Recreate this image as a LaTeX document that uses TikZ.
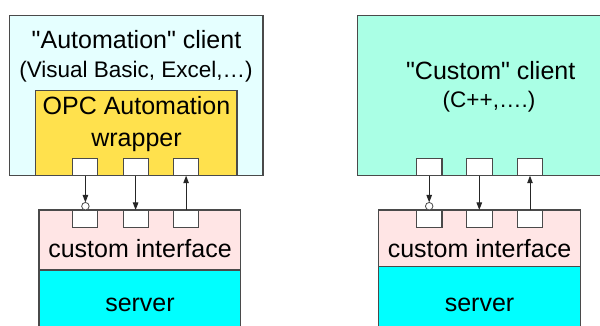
\documentclass[tikz,border=0pt]{standalone}
\usepackage{fontspec}
\setmainfont{Liberation Sans}
\usetikzlibrary{arrows.meta}
\definecolor{edge}{HTML}{4A4A4A}
\definecolor{autocl}{HTML}{E5FFFF}
\definecolor{custcl}{HTML}{AAFFE5}
\definecolor{wrapc}{HTML}{FFE14D}
\definecolor{ifacec}{HTML}{FFE5E5}
\definecolor{servc}{HTML}{00FFFF}
\tikzset{
  box/.style={draw=edge, line width=1.1pt, inner sep=0pt, outer sep=0pt},
  port/.style={box, fill=white, minimum width=25pt},
  bigtxt/.style={inner sep=0pt, anchor=base, font=\fontsize{25}{28}\selectfont},
  smalltxt/.style={inner sep=0pt, anchor=base, font=\fontsize{22.5}{26}\selectfont},
  conn/.style={draw=black!85, line width=1pt, -{Triangle[length=7.5pt,width=5.5pt]}},
  lolly/.style={circle, draw=edge, fill=white, line width=0.8pt, minimum size=7.5pt, inner sep=0pt, outer sep=0pt}
}
\newcommand{\qq}{\textquotedbl}
\begin{document}
\begin{tikzpicture}[x=1pt,y=-1pt]
\useasboundingbox (0,0) rectangle (600,326);
\clip (0,0) rectangle (600,326);
% ---------- left ----------
\node[box, fill=autocl, minimum width=253.5pt, minimum height=160pt] (clientA) at (136.25,95.7) {};
\node[box, fill=wrapc, minimum width=201.3pt, minimum height=85pt] (wrap) at (136.35,133.2) {};
\node[port, minimum height=17pt] (a1) at (85.4,167.2) {};
\node[port, minimum height=17pt] (a2) at (135.6,167.2) {};
\node[port, minimum height=17pt] (a3) at (186.1,167.2) {};
\node[box, fill=ifacec, minimum width=201.7pt, minimum height=60pt] (ifaceA) at (139.85,240) {};
\node[box, fill=servc, minimum width=201.7pt, minimum height=62pt] (servA) at (139.85,301) {};
\node[port, minimum height=17.3pt] (b1) at (85.4,218.6) {};
\node[port, minimum height=17.3pt] (b2) at (135.6,218.6) {};
\node[port, minimum height=17.3pt] (b3) at (186.1,218.6) {};
\node[bigtxt] (tA1) at (136.5,48.3) {\qq Automation\qq{} client};
\node[smalltxt] (tA2) at (136,77.3) {(Visual Basic, Excel,…)};
\node[bigtxt] (tW1) at (136.5,115) {OPC Automation};
\node[bigtxt] (tW2) at (136.5,146.7) {wrapper};
\node[bigtxt] (tI1) at (140,257.3) {custom interface};
\node[bigtxt] (tS1) at (140,311.7) {server};
\node[lolly, anchor=south] (la) at (b1.north) {};
\draw[conn] (a1.south) -- (la.north);
\draw[conn] (a2.south) -- (b2.north);
\draw[conn] (b3.north) -- (a3.south);
% ---------- right ----------
\node[box, fill=custcl, minimum width=250pt, minimum height=160pt] (clientB) at (482.3,95.7) {};
\node[port, minimum width=25.5pt, minimum height=17pt] (c1) at (429.2,167.2) {};
\node[port, minimum width=25.5pt, minimum height=17pt] (c2) at (479.3,167.2) {};
\node[port, minimum width=25.5pt, minimum height=17pt] (c3) at (530,167.2) {};
\node[box, fill=ifacec, minimum width=202pt, minimum height=56.7pt] (ifaceB) at (479.7,238.35) {};
\node[box, fill=servc, minimum width=202pt, minimum height=62pt] (servB) at (479.7,297.7) {};
\node[port, minimum width=25.5pt, minimum height=17.3pt] (d1) at (429.2,218.6) {};
\node[port, minimum width=25.5pt, minimum height=17.3pt] (d2) at (479.3,218.6) {};
\node[port, minimum width=25.5pt, minimum height=17.3pt] (d3) at (530,218.6) {};
\node[bigtxt] (tB1) at (490.7,80) {\qq Custom\qq{} client};
\node[smalltxt] (tB2) at (489,107.3) {(C++,….)};
\node[bigtxt] (tI2) at (479.5,257.3) {custom interface};
\node[bigtxt] (tS2) at (479.5,311.7) {server};
\node[lolly, anchor=south] (lb) at (d1.north) {};
\draw[conn] (c1.south) -- (lb.north);
\draw[conn] (c2.south) -- (d2.north);
\draw[conn] (d3.north) -- (c3.south);
\end{tikzpicture}
\end{document}
